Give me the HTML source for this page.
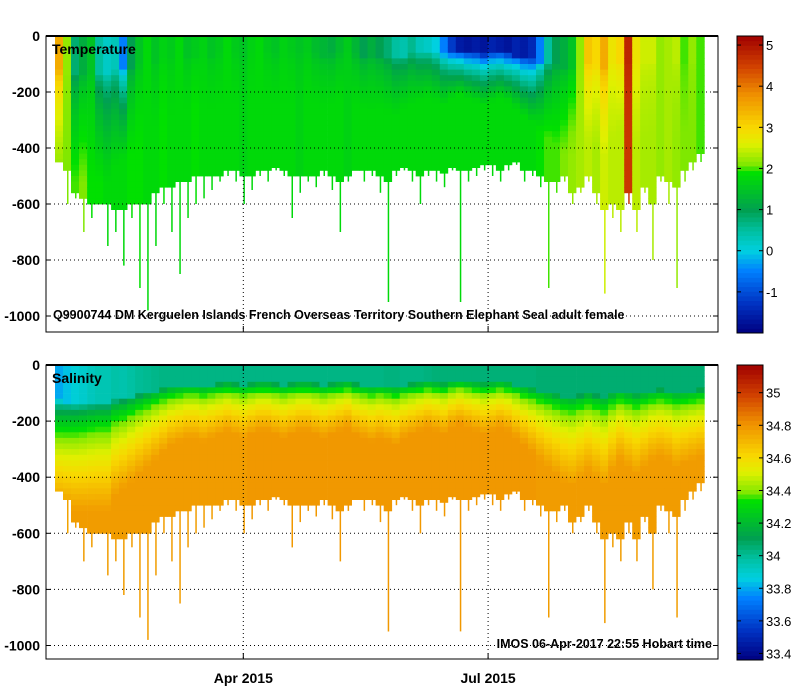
<!DOCTYPE html>
<html><head><meta charset="utf-8"><style>
body{margin:0;background:#fff;}
svg{display:block;font-family:"Liberation Sans",sans-serif;}
</style></head><body>
<svg id="c" width="799" height="700"></svg>
<script>
// ---- data (one entry per ~3-day profile group, Jan 21 – Sep 20 2015) ----
const spikeDepth=[450,600,580,700,650,600,750,700,820,650,900,980,750,600,700,850,650,600,580,550,520,500,520,600,550,500,520,480,500,650,560,520,540,500,550,700,520,480,520,500,560,950,500,480,520,600,500,520,540,480,950,520,500,480,500,520,480,460,520,500,540,900,560,520,600,560,520,600,920,650,700,600,700,560,800,520,600,900,520,480,450];
const floorDepth=[450,480,560,580,600,600,600,620,620,600,600,600,560,540,540,520,520,500,500,500,500,480,480,500,500,480,480,470,480,500,500,500,500,480,500,520,500,480,480,480,500,520,480,470,480,500,480,480,490,470,480,480,470,460,460,480,460,450,480,480,500,520,520,500,560,540,500,560,620,600,620,560,620,540,600,500,520,540,480,450,420];
const layerDepth=[180,190,200,200,200,200,200,180,170,160,150,140,130,120,110,105,100,100,105,100,95,90,95,100,95,90,90,95,100,95,90,90,95,100,95,90,85,95,100,105,100,105,110,100,95,90,85,90,95,85,80,85,90,95,90,85,90,100,110,120,130,140,150,160,165,155,145,155,165,145,130,140,150,140,130,125,130,140,135,130,125];
const tempSurface=[3.5,2.2,0.8,1.2,1.5,0.5,0.2,0.3,-0.5,1.0,1.5,1.8,1.5,1.7,1.6,1.8,1.5,1.6,1.7,1.5,1.6,1.8,1.6,1.5,1.7,1.8,1.6,1.5,1.7,1.6,1.5,1.6,1.4,1.3,1.2,1.4,1.6,1.3,1.0,1.2,1.0,0.8,0.5,0.4,0.6,0.3,0.2,0.0,-0.5,-1.2,-1.6,-1.7,-1.6,-1.7,-1.5,-1.6,-1.7,-1.5,-1.6,-1.4,-0.5,0.5,1.0,1.2,1.5,2.2,3.2,3.0,3.5,2.8,3.0,4.8,2.8,2.5,2.5,2.2,2.3,2.4,2.0,2.2,2.0];
const tempDeep=[2.2,2.1,2.0,2.1,1.9,1.9,1.8,1.8,1.8,1.9,1.9,1.8,1.8,1.9,1.8,1.8,1.8,1.9,1.8,1.8,1.8,1.8,1.8,1.7,1.8,1.8,1.8,1.8,1.8,1.8,1.7,1.8,1.8,1.8,1.8,1.8,1.7,1.8,1.8,1.8,1.8,1.8,1.8,1.8,1.8,1.8,1.8,1.8,1.8,1.8,1.8,1.8,1.8,1.8,1.8,1.8,1.8,1.8,1.8,1.8,1.9,2.0,2.0,2.1,2.2,2.3,2.4,2.3,2.5,2.4,2.4,4.6,2.4,2.3,2.3,2.2,2.3,2.2,2.1,2.1,2.0];
const salSurface=[33.8,33.84,33.88,33.9,33.93,33.95,33.95,33.97,33.96,33.98,34.0,34.01,34.02,34.03,34.03,34.03,34.03,34.03,34.03,34.03,34.03,34.03,34.03,34.03,34.03,34.03,34.03,34.03,34.03,34.03,34.03,34.03,34.03,34.03,34.03,34.03,34.03,34.03,34.03,34.03,34.03,34.04,34.04,34.03,34.03,34.03,34.04,34.05,34.05,34.05,34.05,34.05,34.05,34.05,34.05,34.05,34.05,34.05,34.05,34.05,34.06,34.06,34.06,34.06,34.06,34.06,34.06,34.06,34.06,34.06,34.06,34.06,34.06,34.06,34.06,34.06,34.06,34.06,34.06,34.06,34.06];
const salDeep=[34.74,34.76,34.78,34.78,34.78,34.78,34.78,34.78,34.78,34.78,34.78,34.78,34.78,34.78,34.78,34.78,34.78,34.78,34.78,34.78,34.78,34.78,34.78,34.78,34.79,34.79,34.79,34.79,34.79,34.79,34.79,34.79,34.79,34.79,34.79,34.79,34.79,34.79,34.79,34.79,34.79,34.79,34.79,34.79,34.79,34.79,34.79,34.79,34.79,34.79,34.79,34.79,34.79,34.79,34.79,34.79,34.79,34.79,34.79,34.79,34.78,34.78,34.78,34.78,34.78,34.78,34.78,34.78,34.78,34.78,34.78,34.78,34.78,34.78,34.78,34.78,34.78,34.78,34.78,34.78,34.78];
const depthTicks=[0,-200,-400,-600,-800,-1000];
const tempTicks=[-1,0,1,2,3,4,5];
const salTicks=[33.4,33.6,33.8,34,34.2,34.4,34.6,34.8,35];
const dateTicks=[["Apr 2015",70],["Jul 2015",161]]; // days since Jan 21 2015
const daysPerProfile=2.98;

const svg=document.getElementById('c');
const NS='http://www.w3.org/2000/svg';
function el(t,a,p){const e=document.createElementNS(NS,t);for(const k in a)e.setAttribute(k,a[k]);(p||svg).appendChild(e);return e;}
const X0=46,X1=718;
const xDay=d=>55+d*2.69;
const panels=[
 {top:36,bot:332,y0:36,k:0.28,name:'temperature',label:'Temperature',vmin:-2,vmax:5.22,surf:tempSurface,deep:tempDeep,ticks:tempTicks},
 {top:365,bot:659,y0:365,k:0.2805,name:'salinity',label:'Salinity',vmin:33.36,vmax:35.17,surf:salSurface,deep:salDeep,ticks:salTicks}
];
const stops=[[0,[0,0,128]],[.097,[0,48,192]],[.21,[0,128,255]],[.277,[0,208,224]],[.346,[0,192,160]],[.415,[0,160,80]],[.54,[0,224,0]],[.568,[128,232,0]],[.637,[224,240,0]],[.692,[248,216,0]],[.803,[240,144,0]],[.9,[208,64,0]],[1,[160,0,0]]];
function cmap(t){t=Math.max(0,Math.min(1,t));for(let i=1;i<stops.length;i++){if(t<=stops[i][0]){const a=stops[i-1],b=stops[i];const f=(t-a[0])/(b[0]-a[0]);const c=a[1].map((v,j)=>Math.round(v+(b[1][j]-v)*f));return `rgb(${c})`;}}return 'rgb(160,0,0)';}
function valAt(p,i,d){const m=layerDepth[i];let f=(d-0.7*m)/(1.9*m);f=Math.max(0,Math.min(1,f));f=Math.sqrt(f);return p.surf[i]+(p.deep[i]-p.surf[i])*f;}

panels.forEach(p=>{
 const yD=d=>p.y0+d*p.k;
 const g=el('g',{});
 
 
 const cw=xDay(daysPerProfile)-xDay(0);
 spikeDepth.forEach((sd,i)=>{
  const x=xDay(i*daysPerProfile);
  const fd=floorDepth[i];
  for(let d=0;d<fd;d+=20){
   const r=el('rect',{x:x.toFixed(1),y:yD(d).toFixed(1),width:(cw+0.4).toFixed(1),height:(Math.min(20,fd-d)*p.k+0.4).toFixed(1),fill:cmap((valAt(p,i,d+10)-p.vmin)/(p.vmax-p.vmin))},g);
   
   
  }
  const sl=el('rect',{x:(x+cw/2).toFixed(1),y:yD(fd).toFixed(1),width:1.5,height:((sd-fd)*p.k).toFixed(1),fill:cmap((p.deep[i]-p.vmin)/(p.vmax-p.vmin))},g);
  
  
 });
 depthTicks.slice(1).forEach(t=>{const l=el('line',{x1:X0,x2:X1,y1:yD(-t),y2:yD(-t),stroke:'#000','stroke-dasharray':'1,3','stroke-width':1},g);});
 dateTicks.forEach(([s,d])=>{const l=el('line',{x1:xDay(d),x2:xDay(d),y1:p.top,y2:p.bot,stroke:'#000','stroke-dasharray':'1,3'},g);});
 const fr=el('rect',{x:X0,y:p.top,width:X1-X0,height:p.bot-p.top,fill:'none',stroke:'#000','stroke-width':1},g);
 
 el('line',{x1:X0,x2:X1,y1:p.top,y2:p.top,stroke:'#000','stroke-width':2},g);
 depthTicks.forEach(t=>{
  el('line',{x1:X0,x2:X0+5,y1:yD(-t),y2:yD(-t),stroke:'#000'},g);
  el('line',{x1:X1-5,x2:X1,y1:yD(-t),y2:yD(-t),stroke:'#000'},g);
  const tx=el('text',{x:40,y:yD(-t)+5,'text-anchor':'end','font-size':14,'font-weight':'bold'},g);tx.textContent=t;
  
 });
 dateTicks.forEach(([s,d])=>{el('line',{x1:xDay(d),x2:xDay(d),y1:p.bot,y2:p.bot-6,stroke:'#000'},g);el('line',{x1:xDay(d),x2:xDay(d),y1:p.top,y2:p.top+6,stroke:'#000'},g);});
 const lt=el('text',{x:52,y:p.top+18,'font-size':14,'font-weight':'bold'},g);lt.textContent=p.label;
 
 const cb=el('g',{});
 
 
 const h=p.bot-p.top+1;
 for(let j=0;j<64;j++){el('rect',{x:737,y:(p.top+h-(j+1)*h/64).toFixed(2),width:26,height:(h/64+0.5).toFixed(2),fill:cmap((j+0.5)/64)},cb);}
 el('rect',{x:737,y:p.top,width:26,height:h,fill:'none',stroke:'#000'},cb);
 p.ticks.forEach(v=>{const y=p.top+h-(v-p.vmin)/(p.vmax-p.vmin)*h;
  el('line',{x1:737,x2:741,y1:y,y2:y,stroke:'#000'},cb);el('line',{x1:759,x2:763,y1:y,y2:y,stroke:'#000'},cb);
  const t=el('text',{x:766,y:y+5,'font-size':13},cb);t.textContent=v;});
});
const n1=el('text',{x:53,y:319,'font-size':12.5,'font-weight':'bold'});n1.textContent='Q9900744 DM Kerguelen Islands French Overseas Territory Southern Elephant Seal adult female';

const n2=el('text',{x:712,y:648,'font-size':12.5,'font-weight':'bold','text-anchor':'end'});n2.textContent='IMOS 06-Apr-2017 22:55 Hobart time';

dateTicks.forEach(([s,d])=>{const t=el('text',{x:xDay(d),y:683,'font-size':14,'font-weight':'bold','text-anchor':'middle'});t.textContent=s;
 });
</script>
</body></html>
